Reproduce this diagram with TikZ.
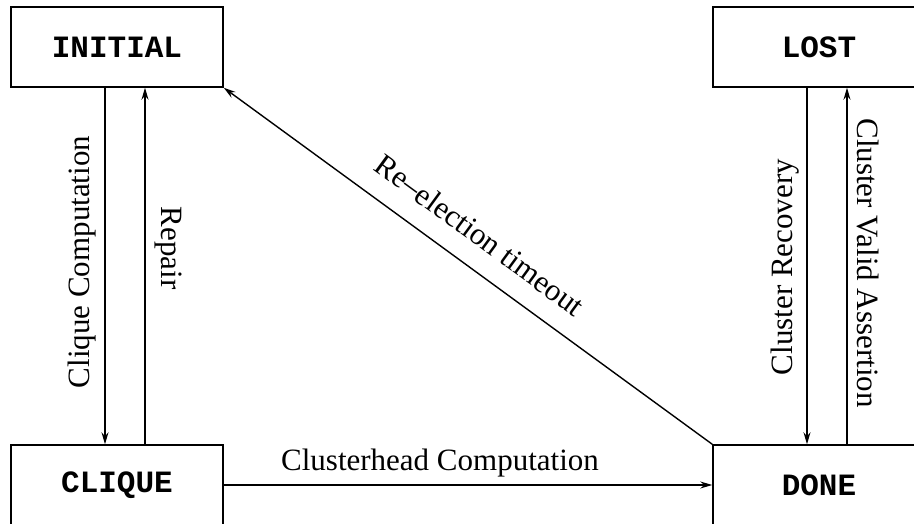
\documentclass[tikz,border=0pt]{standalone}
\usepackage{fontspec}
\setmainfont{Liberation Serif}
\setmonofont{Liberation Mono}
\usetikzlibrary{arrows.meta}

\begin{document}
\begin{tikzpicture}[x=1pt,y=-1pt,
    state/.style={draw, line width=1.5pt, minimum width=212pt, minimum height=80pt,
        inner sep=0pt, font=\fontsize{31}{34}\selectfont\ttfamily\bfseries},
    trans/.style={line width=1.2pt, -{Stealth[length=12pt,width=7pt,inset=4pt]}},
    lbl/.style={font=\fontsize{31}{36}\selectfont}]
    \useasboundingbox (0,0) rectangle (914,524);
    \clip (0,0) rectangle (914,524);

    \node[state] (initial) at (117,47) {INITIAL};
    \node[state] (lost) at (819,47) {LOST};
    \node[state] (clique) at (117,485) {CLIQUE};
    \node[state] (done) at (819,485) {DONE};

    \draw[trans] ([xshift=-12pt]initial.south) -- node[lbl, midway, xshift=-23pt, yshift=4pt, rotate=90] {Clique Computation} ([xshift=-12pt]clique.north);
    \draw[trans] ([xshift=28pt]clique.north) -- node[lbl, midway, xshift=23pt, yshift=18pt, rotate=-90] {Repair} ([xshift=28pt]initial.south);
    \draw[trans] ([xshift=-12pt]lost.south) -- node[lbl, midway, xshift=-22pt, yshift=-1pt, rotate=90] {Cluster Recovery} ([xshift=-12pt]done.north);
    \draw[trans] ([xshift=28pt]done.north) -- node[lbl, midway, xshift=21pt, yshift=3pt, rotate=-90] {Cluster Valid Assertion} ([xshift=28pt]lost.south);
    \draw[trans] (clique.east) -- node[lbl, midway, xshift=-28pt, yshift=22pt] {Clusterhead Computation} (done.west);
    \draw[trans, line width=1.4pt] (done.north west) -- node[lbl, midway, xshift=12pt, yshift=31pt, rotate=-36.2] {Re--election timeout} (initial.south east);

\end{tikzpicture}
\end{document}
